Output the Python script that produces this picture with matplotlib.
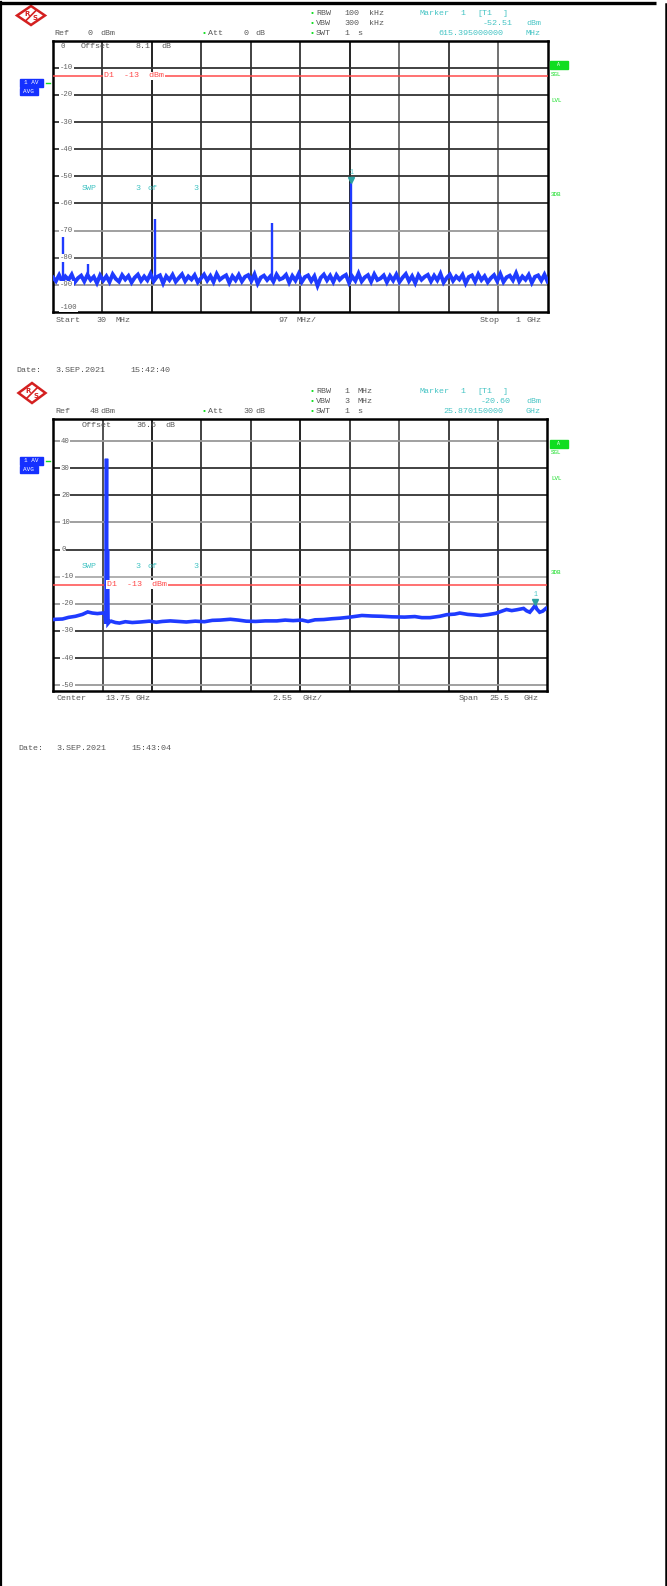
import numpy as np
import matplotlib
matplotlib.use('Agg')
import matplotlib.pyplot as plt
from matplotlib.patches import Polygon, Rectangle

# ---------------- data ----------------
# Panel 1 : 30 MHz .. 1 GHz, Ref 0 dBm, 10 dB/div
p1_start, p1_stop = 30.0, 1000.0           # MHz
p1_ref, p1_bottom = 0.0, -100.0            # dBm
p1_ylabels = ["0", "-10", "-20", "-30", "-40", "-50", "-60", "-70", "-80", "-90", "-100"]
p1_noise = [-87.2, -88.6, -86.4, -88.9, -86.9, -88.1, -86.2, -89.0, -87.5, -86.6,
            -88.7, -86.3, -88.2, -87.0, -89.3, -86.5, -88.4, -86.8, -88.9, -86.1,
            -87.8, -88.8, -86.4, -88.0, -86.7, -89.1, -87.3, -86.2, -88.5, -86.9,
            -88.3, -85.9, -88.7, -87.1, -86.5, -89.4, -86.8, -88.2, -86.3, -88.8,
            -87.4, -86.1, -88.6, -86.9, -88.0, -86.4, -89.0, -87.6, -86.2, -88.4,
            -86.7, -88.9, -86.0, -88.1, -87.2, -86.5, -89.2, -86.8, -88.3, -86.3,
            -88.7, -87.0, -86.4, -88.5, -86.1, -89.5, -87.3, -86.6, -88.2, -86.9,
            -88.8, -86.2, -88.0, -87.5, -86.3, -89.1, -86.7, -88.4, -86.0, -88.9,
            -87.1, -86.5, -88.6, -86.8, -90.3, -87.4, -86.2, -88.3, -86.6, -88.9,
            -86.4, -88.1, -87.0, -86.3, -89.2, -86.9, -88.5, -85.8, -88.7, -87.2,
            -86.4, -88.8, -86.1, -88.2, -87.6, -86.5, -89.0, -86.7, -88.4, -86.2,
            -88.9, -87.3, -86.0, -88.6, -86.8, -89.3, -86.4, -88.1, -87.0, -86.3,
            -88.7, -86.6, -88.3, -85.9, -89.1, -87.4, -86.2, -88.5, -86.9, -88.0,
            -86.3, -89.4, -87.1, -86.5, -88.8, -86.1, -88.2, -86.8, -89.0, -87.5,
            -86.4, -88.6, -86.0, -88.9, -87.2, -86.6, -88.3, -85.7, -88.7, -86.9,
            -88.1, -86.3, -89.2, -87.0, -86.5, -88.4, -86.2, -88.8]
p1_spike_freq = [50.6, 98.9, 230.6, 460.3, 615.4]      # MHz
p1_spike_level = [-72.3, -82.4, -65.9, -67.1, -52.51]  # dBm
p1_marker = (615.395, -52.51)

# Panel 2 : 1 .. 26.5 GHz, Ref 48 dBm, 10 dB/div
p2_start, p2_stop = 1.0, 26.5              # GHz
p2_ref, p2_bottom = 48.0, -52.0            # dBm
p2_ylevels = [40, 30, 20, 10, 0, -10, -20, -30, -40, -50]
p2_ylabels = ["40", "30", "20", "10", "0", "-10", "-20", "-30", "-40", "-50"]
p2_freq = [1.00, 1.14, 1.48, 1.79, 2.15, 2.51, 2.78, 3.02, 3.28, 3.54, 3.66,
           3.72, 3.75, 3.77, 3.80, 3.83,
           3.90, 3.99, 4.21, 4.42, 4.72, 5.08, 5.50, 5.96, 6.32, 6.63, 7.04,
           7.46, 7.87, 8.33, 8.80, 9.21, 9.62, 10.14, 10.55, 10.96, 11.45, 11.94,
           12.54, 12.97, 13.38, 13.84, 14.15, 14.51, 14.96, 15.39, 15.80, 16.32,
           16.93, 17.45, 17.96, 18.48, 19.13, 19.66, 20.02, 20.44, 20.95, 21.31,
           21.72, 21.98, 22.39, 22.75, 23.06, 23.42, 23.84, 24.15, 24.39, 24.66,
           24.92, 25.27, 25.43, 25.59, 25.74, 25.87, 25.95, 26.10, 26.26, 26.44, 26.50]
p2_level = [-25.8, -25.7, -25.6, -25.0, -24.6, -23.9, -23.0, -23.4, -23.6, -23.4, -23.5,
            -27.3, 33.5, -27.0, 0.0, -27.2,
            -26.6, -26.4, -26.9, -27.1, -26.6, -26.9, -26.7, -26.4, -26.8, -26.5, -26.3,
            -26.5, -26.7, -26.4, -26.6, -26.1, -26.0, -25.7, -26.0, -26.4, -26.5, -26.3,
            -26.3, -26.0, -26.2, -26.0, -26.5, -25.9, -25.8, -25.5, -25.3, -24.9,
            -24.3, -24.5, -24.6, -24.8, -24.9, -24.7, -25.1, -25.1, -24.6, -24.0,
            -23.8, -23.4, -23.9, -24.1, -24.3, -24.0, -23.5, -22.7, -22.1, -22.5,
            -22.2, -21.7, -22.6, -23.1, -21.8, -20.6, -21.9, -23.1, -22.7, -21.6, -21.7]
p2_marker = (25.870150, -20.60)

display_line = -13.0   # D1 dBm

# ---------------- styling ----------------
W, H = 667, 1586
BLUE = '#1f3bff'
TEAL = '#45c4c4'
GREEN = '#10dd20'
RED = '#ff4a4a'
GRAY = '#585858'
FONT = 'Liberation Mono'
FS = 6.0

fig = plt.figure(figsize=(W / 100, H / 100), dpi=100)
fig.patch.set_facecolor('white')


def panel(left, top, right, bottom):
    return fig.add_axes([left / W, 1 - bottom / H, (right - left) / W, (bottom - top) / H])


ov = fig.add_axes([0, 0, 1, 1], zorder=10)
ov.set_xlim(0, W)
ov.set_ylim(H, 0)
ov.axis('off')
ov.patch.set_alpha(0)


def words(items, y, color=GRAY, size=FS):
    for x, s in items:
        ov.text(x, y, s, color=color, fontsize=size, family=FONT,
                ha='left', va='center', clip_on=False)


def logo(cx, cy, hw, hh):
    ov.add_patch(Polygon([(cx - hw, cy), (cx, cy - hh), (cx + hw, cy), (cx, cy + hh)],
                         closed=True, facecolor='white', edgecolor='#d42020', lw=1.8))
    ov.plot([cx - 5, cx + 5], [cy + 5, cy - 5], color='#d42020', lw=1.2)
    ov.text(cx - 4, cy - 2, 'R', color='#d42020', fontsize=5, fontweight='bold',
            ha='center', va='center', family='DejaVu Sans')
    ov.text(cx + 4, cy + 2.5, 'S', color='#d42020', fontsize=5, fontweight='bold',
            ha='center', va='center', family='DejaVu Sans')


def side_marks(y_av, y_box, y_sgl, y_lvl, y_3db):
    ov.add_patch(Rectangle((19.5, y_av - 4), 23.5, 8, color='#1530ff'))
    ov.text(31, y_av, '1 AV', color='white', fontsize=4.3, family=FONT, ha='center', va='center')
    ov.add_patch(Rectangle((19.5, y_av + 5), 18.5, 7, color='#1530ff'))
    ov.text(28.7, y_av + 8.5, 'AVG', color='white', fontsize=4.3, family=FONT, ha='center', va='center')
    ov.plot([46, 50], [y_av, y_av], color=GREEN, lw=1)
    ov.add_patch(Rectangle((550, y_box - 4), 17.5, 8, color=GREEN))
    ov.text(558.7, y_box, 'A', color='white', fontsize=3.5, family=FONT, ha='center', va='center')
    for yy, s in [(y_sgl, 'SGL'), (y_lvl, 'LVL'), (y_3db, '3DB')]:
        ov.text(551, yy, s, color=GREEN, fontsize=4.2, family=FONT, ha='left', va='center')


def frame(ax, xr, yr, hcols, vcols, hvals):
    ax.set_xlim(*xr)
    ax.set_ylim(*yr)
    ax.set_xticks([])
    ax.set_yticks([])
    for s in ax.spines.values():
        s.set_linewidth(1.8)
        s.set_color('black')
    step = (xr[1] - xr[0]) / 10
    for i, c in enumerate(vcols, start=1):
        ax.axvline(xr[0] + i * step, color=c, lw=1.3, zorder=1)
    for v, c in zip(hvals, hcols):
        ax.axhline(v, color=c, lw=1.3, zorder=1)


# ---------------- page borders ----------------
ov.plot([0, 656], [3, 3], color='black', lw=2.4, solid_capstyle='butt')
ov.plot([1, 1], [2, H], color='black', lw=1.6)
ov.plot([665.5, 665.5], [4, H], color='black', lw=1.8)

# ---------------- panel 1 ----------------
ax1 = panel(52.8, 40.7, 547.6, 312.0)
h1 = [-10, -20, -30, -40, -50, -60, -70, -80, -90]
frame(ax1, (p1_start, p1_stop), (p1_bottom, p1_ref),
      ['#333', '#333', '#333', '#333', '#333', '#333', '#999', '#555', '#999'],
      ['#333', '#111', '#333', '#333', '#333', '#111', '#666', '#333', '#666'], h1)
f1 = np.linspace(p1_start, p1_stop, len(p1_noise))
ax1.plot(f1, p1_noise, color=BLUE, lw=2.8, zorder=4, solid_joinstyle='miter')
ax1.vlines(p1_spike_freq, -87.5, p1_spike_level, color=BLUE, lw=1.7, zorder=4)
ax1.axhline(display_line, color=RED, lw=1.1, zorder=3)
ax1.text((104 - 52.8) / 494.8, display_line, 'D1  -13  dBm', transform=ax1.get_yaxis_transform(),
         color=RED, fontsize=FS, family=FONT, ha='left', va='center', zorder=5,
         bbox=dict(facecolor='white', edgecolor='none', pad=0.6))
ax1.plot([p1_marker[0]], [p1_marker[1] + 1.0], marker='v', color='#2aa0a0', ms=4, zorder=6)
ax1.text(p1_marker[0], p1_marker[1] + 3.8, '1', color=TEAL, fontsize=4.8, family=FONT,
         ha='center', va='center', zorder=6)
yt1 = [p1_ref - 2.2] + h1 + [p1_bottom + 1.6]
for v, s in zip(yt1, p1_ylabels):
    ax1.text((60 - 52.8) / 494.8, v, s, transform=ax1.get_yaxis_transform(), color='#606060',
             fontsize=5.2, family=FONT, ha='left', va='center', zorder=5,
             bbox=dict(facecolor='white', edgecolor='none', pad=0.4))

logo(31, 15.5, 14, 9.5)
words([(310, '•')], 13.5, GREEN); words([(316, 'RBW'), (344, '100'), (369, 'kHz')], 13.5)
words([(310, '•')], 23.5, GREEN); words([(316, 'VBW'), (344, '300'), (369, 'kHz')], 23.5)
words([(310, '•')], 33.5, GREEN); words([(316, 'SWT'), (344, '1'), (357, 's')], 33.5)
words([(419.5, 'Marker'), (460, '1'), (477, '[T1'), (502.5, ']')], 13.5, TEAL)
words([(482.5, '-52.51'), (526, 'dBm')], 23.5, TEAL)
words([(438.7, '615.395000000'), (526, 'MHz')], 33.5, TEAL)
words([(54, 'Ref'), (88, '0'), (100, 'dBm')], 33.5)
words([(202, '•')], 33.5, GREEN); words([(208, 'Att'), (243, '0'), (255, 'dB')], 33.5)
words([(81, 'Offset'), (135.4, '8.1'), (161, 'dB')], 46.5)
words([(82, 'SWP'), (135, '3'), (147, 'of'), (193, '3')], 189, TEAL)
side_marks(83, 65, 75, 100, 194)
words([(55.7, 'Start'), (96.7, '30'), (115, 'MHz')], 320.5)
words([(278.3, '97'), (296.7, 'MHz/')], 320.5)
words([(479.3, 'Stop'), (515, '1'), (526.7, 'GHz')], 320.5)
words([(16.7, 'Date:'), (55, '3.SEP.2021'), (130.7, '15:42:40')], 371)

# ---------------- panel 2 ----------------
ax2 = panel(53.2, 419.4, 547.4, 690.6)
frame(ax2, (p2_start, p2_stop), (p2_bottom, p2_ref),
      ['#999', '#333', '#333', '#999', '#333', '#aaa', '#999', '#333', '#333', '#999'],
      ['#444', '#111', '#333', '#333', '#111', '#333', '#555', '#333', '#333'], p2_ylevels)
ax2.plot(p2_freq, p2_level, color=BLUE, lw=2.6, zorder=4, solid_joinstyle='miter')
ax2.axhline(display_line, color=RED, lw=1.1, zorder=3)
ax2.text((106.7 - 53.2) / 494.2, display_line, 'D1  -13  dBm', transform=ax2.get_yaxis_transform(),
         color=RED, fontsize=FS, family=FONT, ha='left', va='center', zorder=5,
         bbox=dict(facecolor='white', edgecolor='none', pad=0.6))
ax2.plot([p2_marker[0]], [p2_marker[1] + 1.2], marker='v', color='#2aa0a0', ms=4, zorder=6)
ax2.text(p2_marker[0], p2_marker[1] + 4.0, '1', color=TEAL, fontsize=4.8, family=FONT,
         ha='center', va='center', zorder=6)
for v, s in zip(p2_ylevels, p2_ylabels):
    ax2.text((61 - 53.2) / 494.2, v, s, transform=ax2.get_yaxis_transform(), color='#606060',
             fontsize=5.2, family=FONT, ha='left', va='center', zorder=5,
             bbox=dict(facecolor='white', edgecolor='none', pad=0.4))

logo(32, 393, 13.5, 10)
words([(310, '•')], 391.7, GREEN); words([(316, 'RBW'), (344, '1'), (358, 'MHz')], 391.7)
words([(310, '•')], 401.7, GREEN); words([(316, 'VBW'), (344, '3'), (358, 'MHz')], 401.7)
words([(310, '•')], 411.7, GREEN); words([(316, 'SWT'), (344, '1'), (357, 's')], 411.7)
words([(419.5, 'Marker'), (460, '1'), (477, '[T1'), (502.5, ']')], 391.7, TEAL)
words([(481, '-20.60'), (526, 'dBm')], 401.7, TEAL)
words([(443, '25.870150000'), (526, 'GHz')], 411.7, TEAL)
words([(55.4, 'Ref'), (89.4, '48'), (100.5, 'dBm')], 411.7)
words([(202, '•')], 411.7, GREEN); words([(208, 'Att'), (243, '30'), (255.5, 'dB')], 411.7)
words([(81.8, 'Offset'), (136.3, '36.6'), (165, 'dB')], 425.5)
words([(82, 'SWP'), (135, '3'), (147, 'of'), (193, '3')], 567, TEAL)
side_marks(461, 443.5, 452.7, 478.7, 572.3)
words([(56.6, 'Center'), (105.2, '13.75'), (135.4, 'GHz')], 698.3)
words([(272.6, '2.55'), (302.4, 'GHz/')], 698.3)
words([(458.7, 'Span'), (489.8, '25.5'), (523, 'GHz')], 698.3)
words([(17.9, 'Date:'), (56.6, '3.SEP.2021'), (131, '15:43:04')], 749)

fig.savefig('out.png', dpi=100, facecolor='white')
